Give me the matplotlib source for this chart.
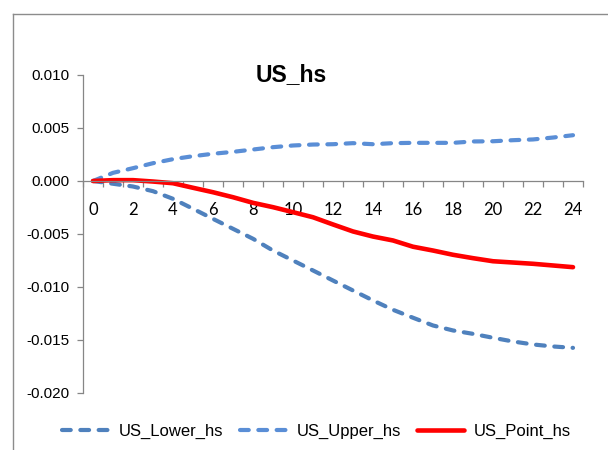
import numpy as np
import matplotlib
matplotlib.use('Agg')
from matplotlib import pyplot as plt
from matplotlib.lines import Line2D

# horizon 0..24
horizon = list(range(25))

us_lower = [0.0, -0.00026, -0.00052, -0.00096, -0.00168, -0.00262, -0.00357, -0.00451,
            -0.00545, -0.00656, -0.0075, -0.00844, -0.00939, -0.01033, -0.01127, -0.01215,
            -0.0129, -0.01363, -0.0141, -0.01442, -0.01479, -0.01514, -0.01542, -0.01561,
            -0.01574]
us_upper = [0.0, 0.00077, 0.00121, 0.00168, 0.00206, 0.00234, 0.00257, 0.00275,
            0.00297, 0.00319, 0.00335, 0.00344, 0.00347, 0.00357, 0.00347, 0.00357,
            0.0036, 0.0036, 0.0036, 0.00373, 0.00375, 0.00385, 0.00392, 0.0041,
            0.00432]
us_point = [0.0, 0.00008, 0.00008, -0.00005, -0.00021, -0.00064, -0.00106, -0.00153,
            -0.00206, -0.00247, -0.00294, -0.00342, -0.0041, -0.00476, -0.00524, -0.00561,
            -0.0062, -0.00656, -0.00696, -0.00728, -0.00757, -0.00769, -0.00781, -0.00797,
            -0.00813]

yticks = [-0.020, -0.015, -0.010, -0.005, 0.000, 0.005, 0.010]
ytick_labels = ['-0.020', '-0.015', '-0.010', '-0.005', '0.000', '0.005', '0.010']
xtick_pos = list(range(0, 25, 2))

AXIS_GRAY = '#868686'

fig = plt.figure(figsize=(6.08, 4.5), dpi=100)
ax = fig.add_axes([83 / 608, 57 / 450, 500 / 608, 318 / 450])

ax.plot(horizon, us_lower, color='#4F81BD', lw=3, dashes=(2.1, 2.3),
        dash_capstyle='round', label='US_Lower_hs')
ax.plot(horizon, us_upper, color='#5A8ED6', lw=3, dashes=(2.1, 2.3),
        dash_capstyle='round', label='US_Upper_hs')
ax.plot(horizon, us_point, color='#FF0000', lw=3.3, solid_capstyle='round',
        label='US_Point_hs')

ax.set_xlim(-0.5, 24.5)
ax.set_ylim(-0.020, 0.010)

# axes look like excel
for s in ['top', 'right']:
    ax.spines[s].set_visible(False)
ax.spines['bottom'].set_position(('data', 0))
for s in ['left', 'bottom']:
    ax.spines[s].set_color(AXIS_GRAY)
    ax.spines[s].set_linewidth(0.9)

ax.set_yticks(yticks)
ax.set_yticklabels(ytick_labels, fontsize=11, family='Liberation Sans')
ax.tick_params(axis='y', direction='out', length=4, width=0.9, color=AXIS_GRAY, pad=6)

ax.set_xticks(xtick_pos)
ax.set_xticklabels([str(x) for x in xtick_pos], fontsize=12, family='Lato')
ax.set_xticks(np.arange(-0.5, 25, 1), minor=True)
ax.tick_params(axis='x', which='major', length=0, pad=15)
ax.tick_params(axis='x', which='minor', direction='out', length=4.5, width=0.9,
               color=AXIS_GRAY)

fig.text(291 / 608, 1 - 75 / 450, 'US_hs', fontsize=16.5, fontweight='bold',
         family='Liberation Sans', ha='center', va='center')

leg = fig.legend(loc='center', bbox_to_anchor=(0.5206, 1 - 431.7 / 450), ncol=3,
                 frameon=False, prop={'family': 'Liberation Sans', 'size': 12},
                 handlelength=2.8, handletextpad=0.6, columnspacing=1.0)

# chart area border
fig.add_artist(Line2D([13 / 608, 13 / 608], [0, 1 - 14 / 450], color='#8C8C8C', lw=1))
fig.add_artist(Line2D([13 / 608, 1], [1 - 14 / 450, 1 - 14 / 450], color='#8C8C8C', lw=1))

plt.savefig('out.png', dpi=100)
plt.close()
